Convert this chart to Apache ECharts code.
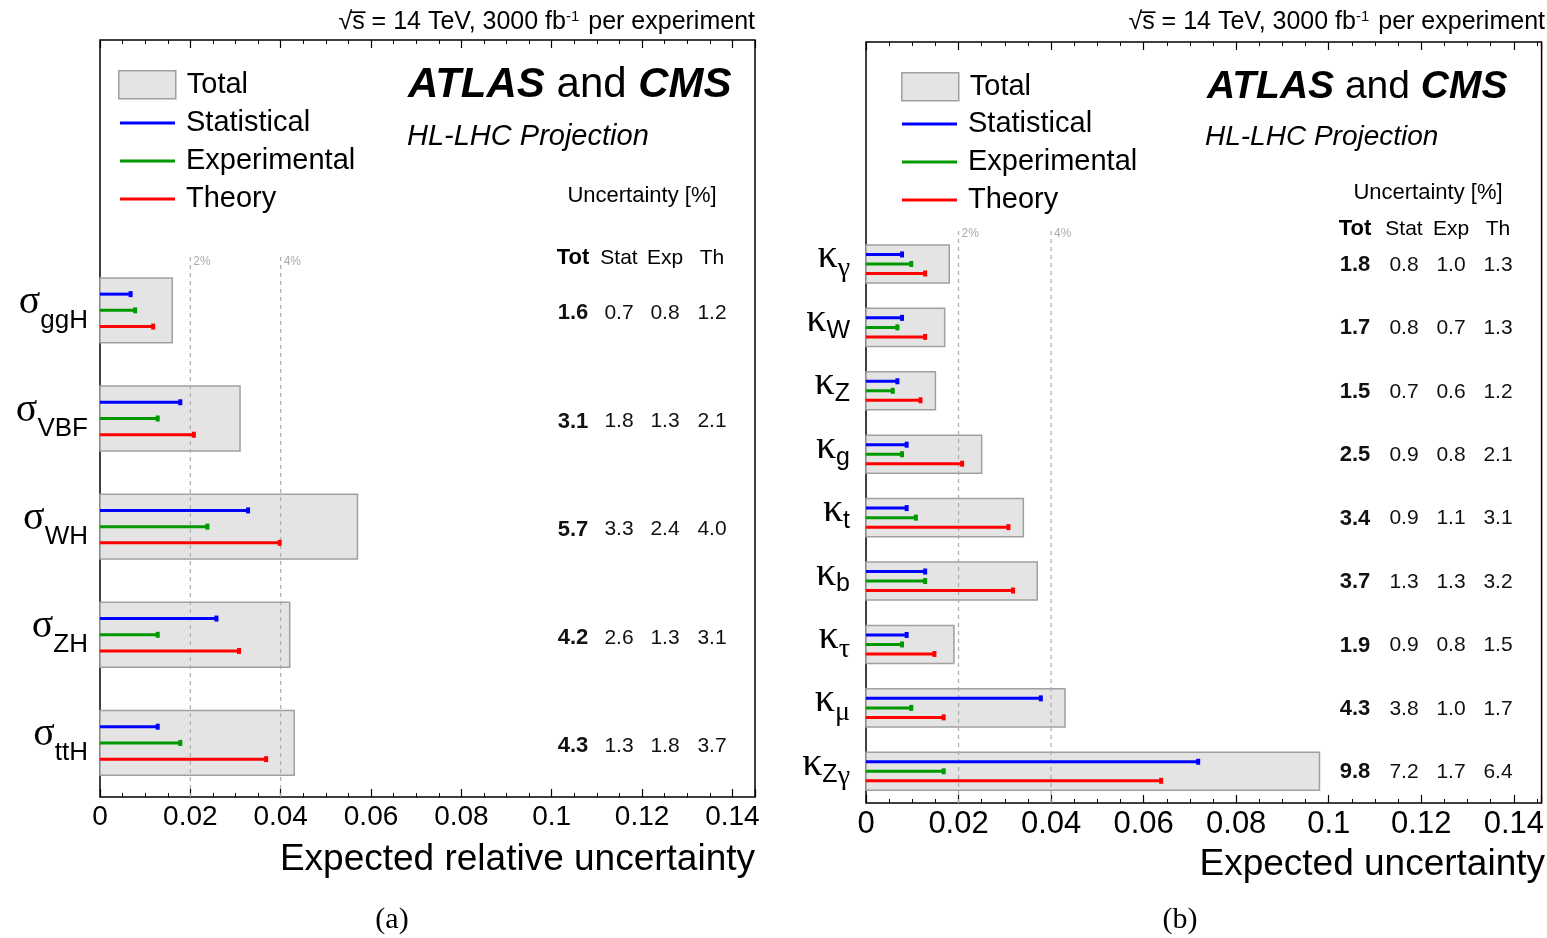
<!DOCTYPE html>
<html>
<head>
<meta charset="utf-8">
<script src="https://cdn.jsdelivr.net/npm/echarts@6/dist/echarts.min.js"></script>
<style>html,body{margin:0;padding:0;background:#fff}#c{width:1547px;height:938px}</style>
</head>
<body>
<div id="c"></div>
<script>
// ---------------- data ----------------
const sigmaLabels = ['ggH', 'VBF', 'WH', 'ZH', 'ttH'];
const sigmaTot  = [1.6, 3.1, 5.7, 4.2, 4.3];
const sigmaStat = [0.7, 1.8, 3.3, 2.6, 1.3];
const sigmaExp  = [0.8, 1.3, 2.4, 1.3, 1.8];
const sigmaTh   = [1.2, 2.1, 4.0, 3.1, 3.7];

const kappaLabels = ['γ', 'W', 'Z', 'g', 't', 'b', 'τ', 'μ', 'Zγ'];
const kappaTot  = [1.8, 1.7, 1.5, 2.5, 3.4, 3.7, 1.9, 4.3, 9.8];
const kappaStat = [0.8, 0.8, 0.7, 0.9, 0.9, 1.3, 0.9, 3.8, 7.2];
const kappaExp  = [1.0, 0.7, 0.6, 0.8, 1.1, 1.3, 0.8, 1.0, 1.7];
const kappaTh   = [1.3, 1.3, 1.2, 2.1, 3.1, 3.2, 1.5, 1.7, 6.4];

const xTickLabels = ['0', '0.02', '0.04', '0.06', '0.08', '0.1', '0.12', '0.14'];
const refLines = [0.02, 0.04];
const refLineLabels = ['2%', '4%'];
const tableHeader = ['Tot', 'Stat', 'Exp', 'Th'];
const legendNames = ['Total', 'Statistical', 'Experimental', 'Theory'];

// ---------------- style ----------------
const SANS = 'Liberation Sans';
const SERIF = 'Liberation Serif';
const C_STAT = '#0000ff', C_EXP = '#009a00', C_TH = '#ff0000';
const BOX_FILL = '#e4e4e4', BOX_STROKE = '#a0a0a0';

const panels = [
  { grid: { left: 100, top: 40, width: 655, height: 757 }, xmax: 0.145, nSlots: 7,
    greek: 'σ', labels: sigmaLabels, tot: sigmaTot, stat: sigmaStat, exp: sigmaExp, th: sigmaTh,
    refTop: 5.0, cols: [573, 619, 665, 712], rowDy: 3, headY: 258, uncY: 196, uncX: 642,
    tickFont: 28, labMargin: 12, subPad: [25, 0, 0, 0], labPad: [0, 0, 20, 0], subSize: 26,
    xTitle: 'Expected relative uncertainty', xTitleY: 860, caption: '(a)', capX: 392,
    atlasX: 408, atlasY: 85, atlasSize: 42, hlX: 407, hlSize: 29,
    legA: { left: 118, top: 70 }, legB: { left: 120, top: 104 } },
  { grid: { left: 866, top: 42, width: 679, height: 761 }, xmax: 0.146, nSlots: 12,
    greek: 'κ', labels: kappaLabels, tot: kappaTot, stat: kappaStat, exp: kappaExp, th: kappaTh,
    refTop: 9.05, cols: [1355, 1404, 1451, 1498], rowDy: 1, headY: 229, uncY: 193, uncX: 1428,
    tickFont: 31, labMargin: 16, subPad: [18, 0, 0, 0], labPad: [0, 0, 18, 0], subSize: 25,
    xTitle: 'Expected uncertainty', xTitleY: 865, caption: '(b)', capX: 1180,
    atlasX: 1207, atlasY: 87, atlasSize: 39, hlX: 1205, hlSize: 28,
    legA: { left: 901, top: 72 }, legB: { left: 902, top: 105 } }
];

function isGreek(ch) { return /[\u0370-\u03FF]/.test(ch); }

function rowY(n, i) { return n - i - 0.5; }

function boxRender(params, api) {
  const v = api.value(0), r = api.value(1);
  const p0 = api.coord([0, r]), p1 = api.coord([v, r]);
  const h = api.size([0, 0.6])[1];
  return { type: 'rect', shape: { x: p0[0], y: p0[1] - h / 2, width: p1[0] - p0[0], height: h },
    style: { fill: BOX_FILL, stroke: BOX_STROKE, lineWidth: 1.5 } };
}
function lineRender(off, color) {
  return function (params, api) {
    const v = api.value(0), r = api.value(1) + off;
    const p0 = api.coord([0, r]), p1 = api.coord([v, r]);
    return { type: 'group', children: [
      { type: 'line', shape: { x1: p0[0], y1: p0[1], x2: p1[0], y2: p1[1] }, style: { stroke: color, lineWidth: 3 } },
      { type: 'rect', shape: { x: p1[0] - 3, y: p1[1] - 3, width: 4, height: 6 }, style: { fill: color } }
    ] };
  };
}
function refRender(topVal) {
  return function (params, api) {
    const x = api.value(0);
    const p0 = api.coord([x, 0]), p1 = api.coord([x, topVal]);
    return { type: 'group', children: [
      { type: 'line', shape: { x1: p0[0], y1: p0[1], x2: p1[0], y2: p1[1] },
        style: { stroke: '#aaaaaa', lineWidth: 1.2, lineDash: [4, 4] } },
      { type: 'text', style: { text: refLineLabels[params.dataIndex], x: p1[0] + 3, y: p1[1] - 1,
        fill: '#aaaaaa', font: '12px ' + SANS, align: 'left', verticalAlign: 'top' } }
    ] };
  };
}
function tableRender(cols, dy) {
  return function (params, api) {
    const y = api.coord([0, api.value(4)])[1] + dy;
    const ch = [];
    for (let k = 0; k < 4; k++) {
      ch.push({ type: 'text', style: { text: api.value(k).toFixed(1), x: cols[k], y: y,
        fill: '#111', font: (k === 0 ? 'bold 22px ' : '21px ') + SANS, align: 'center', verticalAlign: 'middle' } });
    }
    return { type: 'group', children: ch };
  };
}

const option = {
  animation: false,
  backgroundColor: '#fff',
  grid: [], xAxis: [], yAxis: [], series: [], legend: [], graphic: []
};

panels.forEach((P, pi) => {
  const n = P.labels.length;
  option.grid.push(Object.assign({ show: true, borderColor: '#000', borderWidth: 1.5, backgroundColor: 'transparent' }, P.grid));
  const xBase = {
    gridIndex: pi, type: 'value', min: 0, max: P.xmax, interval: 0.02,
    axisLine: { show: false }, splitLine: { show: false },
    axisTick: { show: true, inside: true, length: 8, lineStyle: { color: '#000', width: 1.2 } },
    minorTick: { show: true, splitNumber: 4, length: 4, lineStyle: { color: '#000', width: 1 } },
    minorSplitLine: { show: false }
  };
  option.xAxis.push(Object.assign({}, xBase, {
    position: 'bottom',
    axisLabel: { show: true, margin: 6, color: '#000', fontFamily: SANS, fontSize: P.tickFont, showMaxLabel: false,
      formatter: function (v) { const i = Math.round(v / 0.02); return (Math.abs(v - i * 0.02) < 1e-9 && i < xTickLabels.length) ? xTickLabels[i] : ''; } }
  }));
  option.xAxis.push(Object.assign({}, xBase, { position: 'top', axisLabel: { show: false } }));

  option.yAxis.push({ gridIndex: pi, type: 'value', min: 0, max: P.nSlots, show: false });
  const cats = [];
  for (let s = 0; s < P.nSlots; s++) cats.push(s < n ? P.labels[n - 1 - s] : '');
  option.yAxis.push({
    gridIndex: pi, type: 'category', data: cats, position: 'left',
    axisLine: { show: false }, axisTick: { show: false }, splitLine: { show: false },
    axisLabel: {
      interval: 0, hideOverlap: false,
      margin: P.labMargin, padding: P.labPad,
      formatter: function (v) {
        if (!v) return '';
        let s = '{g|' + P.greek + '}';
        for (const ch of v) s += isGreek(ch) ? '{sg|' + ch + '}' : '{s|' + ch + '}';
        return s;
      },
      rich: {
        g: { fontFamily: SERIF, fontSize: 40, lineHeight: 36, color: '#000', verticalAlign: 'top' },
        s: { fontFamily: SANS, fontSize: P.subSize, lineHeight: 26, padding: P.subPad, color: '#000', verticalAlign: 'top' },
        sg: { fontFamily: SERIF, fontSize: P.subSize + 3, lineHeight: 26, padding: P.subPad, color: '#000', verticalAlign: 'top' }
      }
    }
  });

  const xi = pi * 2, yi = pi * 2;
  const mk = (arr) => arr.map((v, i) => [v / 100, rowY(n, i)]);
  option.series.push({ name: 'Total', type: 'custom', xAxisIndex: xi, yAxisIndex: yi, renderItem: boxRender,
    itemStyle: { color: BOX_FILL, borderColor: BOX_STROKE, borderWidth: 1.5 }, data: mk(P.tot), z: 2 });
  option.series.push({ name: 'ref' + pi, type: 'custom', xAxisIndex: xi, yAxisIndex: yi, renderItem: refRender(P.refTop),
    data: refLines.map(v => [v]), z: 3, silent: true });
  option.series.push({ name: 'Statistical', type: 'custom', xAxisIndex: xi, yAxisIndex: yi, renderItem: lineRender(0.15, C_STAT),
    itemStyle: { color: C_STAT }, data: mk(P.stat), z: 4 });
  option.series.push({ name: 'Experimental', type: 'custom', xAxisIndex: xi, yAxisIndex: yi, renderItem: lineRender(0, C_EXP),
    itemStyle: { color: C_EXP }, data: mk(P.exp), z: 4 });
  option.series.push({ name: 'Theory', type: 'custom', xAxisIndex: xi, yAxisIndex: yi, renderItem: lineRender(-0.15, C_TH),
    itemStyle: { color: C_TH }, data: mk(P.th), z: 4 });
  option.series.push({ name: 'table' + pi, type: 'custom', xAxisIndex: xi, yAxisIndex: yi, renderItem: tableRender(P.cols, P.rowDy),
    data: P.tot.map((v, i) => [v, P.stat[i], P.exp[i], P.th[i], rowY(n, i)]), z: 5, silent: true, clip: false });

  // legends
  option.legend.push({ orient: 'vertical', left: P.legA.left, top: P.legA.top, padding: 0, itemGap: 0,
    itemWidth: 57, itemHeight: 28, icon: 'rect', selectedMode: false,
    textStyle: { fontFamily: SANS, fontSize: 29, color: '#000', lineHeight: 28, padding: [0, 0, 0, 6] },
    data: [{ name: legendNames[0], itemStyle: { color: BOX_FILL, borderColor: BOX_STROKE, borderWidth: 1.5 } }] });
  option.legend.push({ orient: 'vertical', left: P.legB.left, top: P.legB.top, padding: 0, itemGap: 0,
    itemWidth: 55, itemHeight: 3, icon: 'rect', selectedMode: false,
    textStyle: { fontFamily: SANS, fontSize: 29, color: '#000', lineHeight: 38, padding: [0, 0, 0, 6] },
    data: [{ name: legendNames[1], itemStyle: { color: C_STAT } }, { name: legendNames[2], itemStyle: { color: C_EXP } },
           { name: legendNames[3], itemStyle: { color: C_TH } }] });

  const right = P.grid.left + P.grid.width;
  const txt = (o) => ({ type: 'text', z: 10, style: Object.assign({ fill: '#000' }, o) });
  option.graphic.push(txt({ text: '√s\u0305 = 14 TeV, 3000 fb{sup|-1} per experiment', x: right, y: 22,
    font: '25px ' + SANS, align: 'right', verticalAlign: 'middle',
    rich: { sup: { fontFamily: SANS, fontSize: 15, verticalAlign: 'top', lineHeight: 15, padding: [0, 2, 12, 0] } } }));
  option.graphic.push(txt({ text: '{b|ATLAS} and {b|CMS}', x: P.atlasX, y: P.atlasY,
    font: P.atlasSize + 'px ' + SANS, align: 'left', verticalAlign: 'middle',
    rich: { b: { fontFamily: SANS, fontSize: P.atlasSize, fontWeight: 'bold', fontStyle: 'italic' } } }));
  option.graphic.push(txt({ text: 'HL-LHC Projection', x: P.hlX, y: 137, font: 'italic ' + P.hlSize + 'px ' + SANS,
    align: 'left', verticalAlign: 'middle' }));
  option.graphic.push(txt({ text: 'Uncertainty [%]', x: P.uncX, y: P.uncY, font: '22px ' + SANS, align: 'center', verticalAlign: 'middle' }));
  tableHeader.forEach((h, k) => {
    option.graphic.push(txt({ text: h, x: P.cols[k], y: P.headY, font: (k === 0 ? 'bold 22px ' : '21px ') + SANS,
      align: 'center', verticalAlign: 'middle' }));
  });
  option.graphic.push(txt({ text: P.xTitle, x: right, y: P.xTitleY, font: '37px ' + SANS, align: 'right', verticalAlign: 'middle' }));
  option.graphic.push(txt({ text: P.caption, x: P.capX, y: 920, font: '30px ' + SERIF, align: 'center', verticalAlign: 'middle' }));
});

const chart = echarts.init(document.getElementById('c'), null, { renderer: 'canvas' });
chart.setOption(option);
</script>
</body>
</html>
